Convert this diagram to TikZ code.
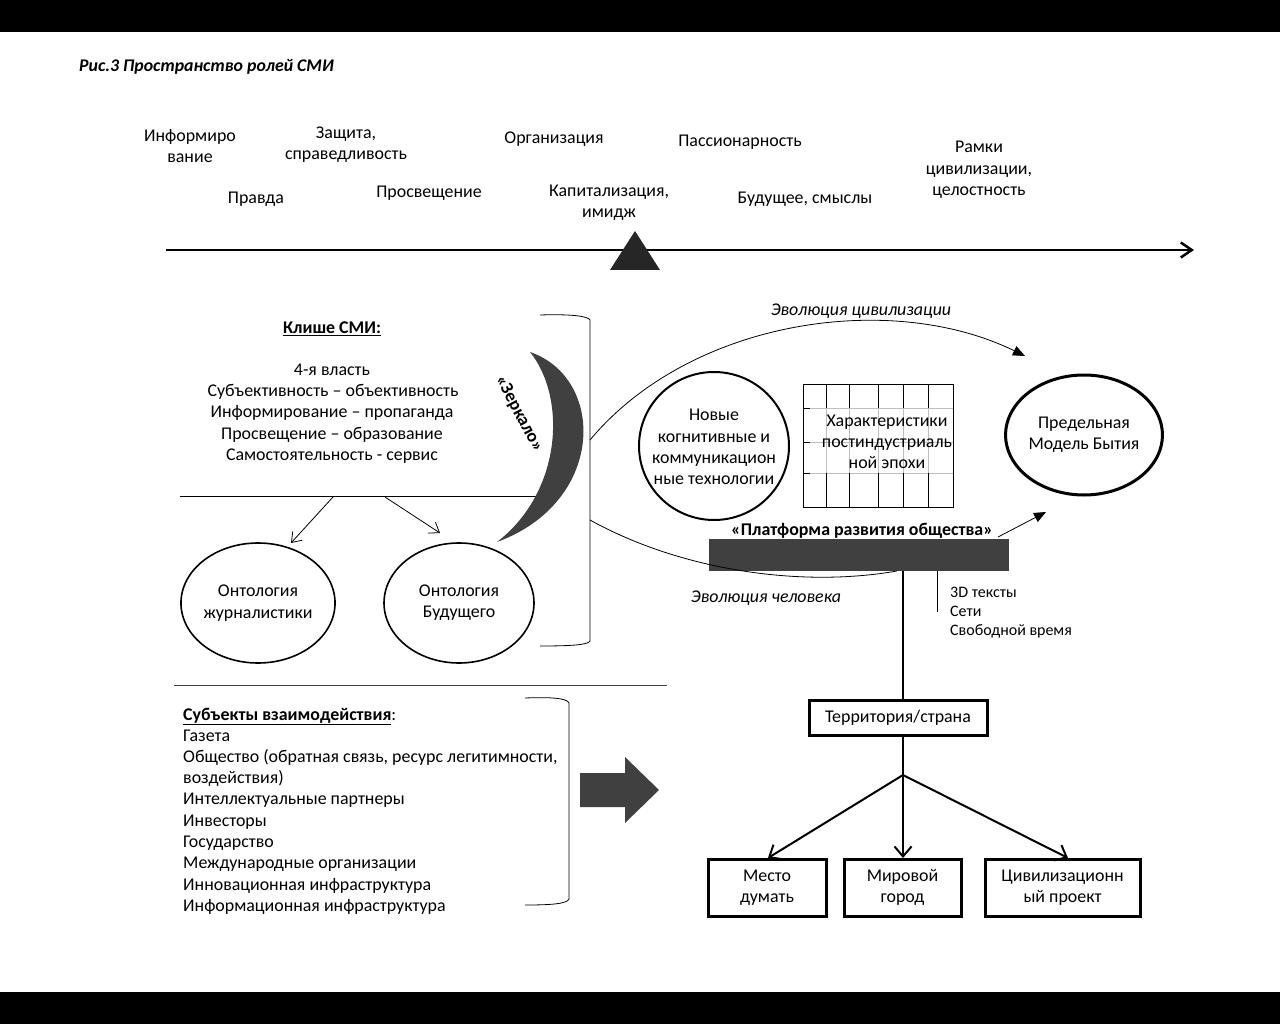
\documentclass[tikz,border=0pt]{standalone}
\usepackage{fontspec}
\setmainfont{Carlito}
\usetikzlibrary{arrows.meta,shapes.geometric}
\definecolor{dgray}{RGB}{64,64,64}
\definecolor{tgray}{RGB}{38,38,38}
\definecolor{lgray}{RGB}{190,190,190}
\newcommand\fs{\fontsize{17.9}{21.3}\selectfont}
\newcommand\fss{\fontsize{16}{19}\selectfont}
\begin{document}
\begin{tikzpicture}[x=1pt,y=-1pt,
  lbl/.style={font=\fs, align=center, inner sep=0pt},
  lline/.style={font=\fs, anchor=base west, inner sep=0pt},
  oval/.style={draw, ellipse, inner sep=0pt, font=\fs, align=center},
  tbox/.style={draw, line width=3pt, inner sep=0pt, font=\fs, align=center},
  thinarr/.style={-{Straight Barb[length=9pt,width=13pt]}, line width=0.8pt},
  treearr/.style={-{Straight Barb[length=10pt,width=17pt]}, line width=2pt},
  evoarr/.style={-{Triangle[length=12pt,width=10pt]}, line width=0.8pt}]
\useasboundingbox (0,0) rectangle (1280,1024);
\fill[black] (0,0) rectangle (1280,32);
\fill[black] (0,992) rectangle (1280,1024);

% title
\node[font=\fontsize{17.8}{20}\selectfont\bfseries\itshape, anchor=west, inner sep=0pt] (title) at (79,67) {Рис.3 Пространство ролей СМИ};

% top labels
\node[lbl] (t1) at (190,146) {Информиро\\вание};
\node[lbl] (t2) at (346,145) {Защита,\\справедливость};
\node[lbl] (t3) at (554,139) {Организация};
\node[lbl] (t4) at (740,142) {Пассионарность};
\node[lbl] (t5) at (979,170) {Рамки\\цивилизации,\\целостность};
\node[lbl] (t6) at (256,199) {Правда};
\node[lbl] (t7) at (429,193) {Просвещение};
\node[lbl] (t8) at (609,203) {Капитализация,\\имидж};
\node[lbl] (t9) at (805,199) {Будущее, смыслы};

% axis
\coordinate (axL) at (166,250);
\coordinate (axR) at (1194,250);
\draw[line width=2.5pt, -{Straight Barb[length=11pt,width=15pt]}] (axL) -- (axR);
\fill[tgray] (635,231) -- (660,270) -- (610,270) -- cycle;

% cliche block
\node[lbl] (cl) at (332,329) {\underline{\textbf{Клише СМИ:}}};
\node[lbl] (c1) at (332,370) {4-я власть};
\node[lbl] (c2) at (333,392) {Субъективность – объективность};
\node[lbl] (c3) at (332,413) {Информирование – пропаганда};
\node[lbl] (c4) at (332,435) {Просвещение – образование};
\node[lbl] (c5) at (332,456) {Самостоятельность - сервис};

\coordinate (hL) at (180,496);
\coordinate (hR) at (540,496);
\draw[line width=0.8pt] (hL) -- (hR);

\node[oval, line width=1.6pt, minimum width=149pt, minimum height=120pt] (oj) at (258,603) {Онтология\\журналистики};
\node[oval, line width=1.6pt, minimum width=150pt, minimum height=120pt] (ob) at (459,603) {Онтология\\Будущего};
\coordinate (a1s) at (333,497);
\coordinate (a1e) at (291,543);
\coordinate (a2s) at (385,497);
\coordinate (a2e) at (440,533);
\draw[thinarr] (a1s) -- (a1e);
\draw[thinarr] (a2s) -- (a2e);

% crescent mirror
\fill[dgray] (530,352) .. controls (606,378) and (606,502) .. (497,542)
   .. controls (562,492) and (567,398) .. (530,352) -- cycle;
\node[font=\fontsize{18}{20}\selectfont\bfseries, rotate=-62, inner sep=0pt] (mir) at (519,414) {«Зеркало»};

% bracket cliche
\draw[line width=0.8pt] (540,315) .. controls (570,314) and (588,316) .. (590,320) -- (590,641)
   .. controls (588,645) and (570,646) .. (540,646);
\coordinate (brU) at (590,440);
\coordinate (brD) at (590,520);

% right part
\node[draw, ellipse, line width=2pt, minimum width=150pt, minimum height=148pt, inner sep=0pt] (nt) at (714,446) {};
\node[lbl] (ntt) at (714,447) {Новые\\когнитивные и\\коммуникацион\\ные технологии};

% grid
\foreach \yy in {408,442,473} \draw[lgray, line width=0.8pt] (803,\yy) -- (953,\yy);
\foreach \xx in {826,849,878,903,928} \draw[lgray, line width=0.8pt] (\xx,384) -- (\xx,507);
\foreach \xx in {826,849,878,903,928} {\draw[line width=0.8pt] (\xx,384) -- (\xx,408); \draw[line width=0.8pt] (\xx,473) -- (\xx,507);}
\foreach \yy in {408,442,473} \draw[line width=0.8pt] (803,\yy) -- (810,\yy);
\draw[line width=0.8pt] (803,384) rectangle (953,507);
\node[lbl] (ch) at (887,442) {Характеристики\\постиндустриаль\\ной эпохи};

\node[oval, line width=3pt, minimum width=151pt, minimum height=120pt] (pm) at (1084,435) {Предельная\\Модель Бытия};

\coordinate (evoE) at (1025,356);
\draw[evoarr] (brU) .. controls (690,320) and (890,290) .. (evoE);
\node[font=\fs\itshape, inner sep=0pt] (evl) at (861,311) {Эволюция цивилизации};

% platform
\node[font=\fs\bfseries, inner sep=0pt] (plt) at (862,531) {«Платформа развития общества»};
\node[fill=dgray, minimum width=300pt, minimum height=32pt, inner sep=0pt] (bar) at (859,555) {};
\coordinate (hm) at (897,571);
\draw[line width=0.8pt] (brD) .. controls (680,570) and (800,588) .. (hm);
\coordinate (barOut) at (998,537);
\coordinate (barArr) at (1046,512);
\draw[evoarr] (barOut) -- (barArr);
\node[font=\fs\itshape, inner sep=0pt] (ehl) at (766,598) {Эволюция человека};

% 3D list
\draw[line width=0.8pt] (937,571) -- (937,612);
\node[font=\fss, anchor=base west, inner sep=0pt] (l1) at (950,597) {3D тексты};
\node[font=\fss, anchor=base west, inner sep=0pt] (l2) at (950,616) {Сети};
\node[font=\fss, anchor=base west, inner sep=0pt] (l3) at (950,635) {Свободной время};

% tree
\node[tbox, minimum width=178pt, minimum height=35pt] (ter) at (898,717.5) {Территория/страна};
\draw[line width=2pt] (903,571) -- (903,700);
\coordinate (br) at (903,775);
\draw[line width=2pt] (903,735) -- (br);
\node[tbox, minimum width=118pt, minimum height=57pt] (md) at (767,887.5) {Место\\думать};
\node[tbox, minimum width=117pt, minimum height=57pt] (mg) at (902.5,887.5) {Мировой\\город};
\node[tbox, minimum width=155pt, minimum height=57pt] (cp) at (1062.5,887.5) {Цивилизационн\\ый проект};
\draw[treearr] (br) -- (768,858);
\draw[treearr] (br) -- (903,858);
\draw[treearr] (br) -- (1068,858);

% separator
\draw[line width=0.8pt, black!75] (174,685) -- (667,685);

% subjects
\node[lline] (s0) at (183,720) {\underline{\textbf{Субъекты взаимодействия}}:};
\node[lline] (s1) at (183,741) {Газета};
\node[lline] (s2) at (183,762) {Общество (обратная связь, ресурс легитимности,};
\node[lline] (s3) at (183,783) {воздействия)};
\node[lline] (s4) at (183,804) {Интеллектуальные партнеры};
\node[lline] (s5) at (183,826) {Инвесторы};
\node[lline] (s6) at (183,847) {Государство};
\node[lline] (s7) at (183,868) {Международные организации};
\node[lline] (s8) at (183,890) {Инновационная инфраструктура};
\node[lline] (s9) at (183,911) {Информационная инфраструктура};

\draw[line width=0.8pt] (525,698) .. controls (550,697) and (567,698) .. (569,703) -- (569,899)
   .. controls (567,904) and (550,905) .. (525,905);

% fat arrow
\fill[dgray] (580,773) -- (625,773) -- (625,757) -- (659,790) -- (625,823) -- (625,807) -- (580,807) -- cycle;
\end{tikzpicture}
\end{document}
